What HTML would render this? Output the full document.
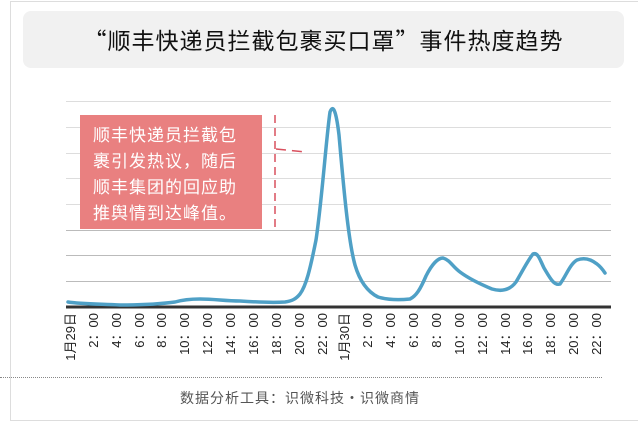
<!DOCTYPE html>
<html><head><meta charset="utf-8"><style>
body{margin:0;width:638px;height:421px;background:#fff;overflow:hidden;font-family:"Liberation Sans","Noto Sans CJK SC",sans-serif;position:relative}
.frame{position:absolute;left:10px;top:1px;width:627px;height:418px;border:1px solid #ddd}
.title{position:absolute;left:23px;top:11px;width:601px;height:57px;background:#f1f1f1;border-radius:8px;text-align:center;line-height:57px;font-size:23px;letter-spacing:1px;color:#111;font-family:"Noto Sans CJK SC",sans-serif}
.note{position:absolute;left:80px;top:115px;width:182px;height:114px;background:#e98080;color:#fff;font-size:17px;line-height:26px;padding:6px 0 0 13px;box-sizing:border-box;letter-spacing:1px;font-family:"Noto Sans CJK SC",sans-serif}
.foot{position:absolute;left:0;top:388px;width:600px;text-align:center;font-size:14px;letter-spacing:1px;color:#555;font-family:"Noto Sans CJK SC",sans-serif}
.dot{position:absolute;left:0;top:377px;width:602px;border-top:1px dotted #888}
</style></head><body>
<div class="frame"></div>
<div class="title">“顺丰快递员拦截包裹买口罩”事件热度趋势</div>
<svg width="638" height="421" style="position:absolute;left:0;top:0">
<g stroke="#ddd" stroke-width="1">
<line x1="66" x2="611" y1="101.5" y2="101.5"/><line x1="66" x2="611" y1="127.5" y2="127.5"/>
<line x1="66" x2="611" y1="153.5" y2="153.5"/><line x1="66" x2="611" y1="178.5" y2="178.5"/>
<line x1="66" x2="611" y1="204.5" y2="204.5"/><line x1="66" x2="611" y1="230.5" y2="230.5" stroke="#bbb"/>
<line x1="66" x2="611" y1="255.5" y2="255.5" stroke="#bbb"/><line x1="66" x2="611" y1="281.5" y2="281.5" stroke="#bbb"/>
</g>
<line x1="66" x2="611" y1="307" y2="307" stroke="#333" stroke-width="3"/>
<path d="M68,302 C80,304 100,304 120,305 C140,305 160,304 175,302 C182,300 188,299 200,299 C215,299 225,301 240,301 C255,302 270,303 285,302 C292,301 296,299 300,294 C306,286 310,270 316,240 C322,200 326,140 330,112 C333,104 336,110 339,135 C343,180 348,240 355,265 C360,282 368,292 378,297 C388,300 400,300 410,299 C416,296 420,290 426,276 C432,264 438,258 443,258 C450,260 452,266 460,272 C468,278 480,284 492,289 C502,292 510,290 516,282 C522,272 528,260 533,254 C538,252 540,260 544,268 C550,278 554,286 560,284 C566,276 570,264 577,260 C585,257 592,260 597,264 C601,267 603,270 605,273" fill="none" stroke="#4fa0c6" stroke-width="3.5" stroke-linecap="round"/>
<line x1="275" x2="275" y1="115" y2="229" stroke="#d9505e" stroke-width="1.5" stroke-dasharray="8,5"/>
<line x1="276" x2="306" y1="149" y2="152" stroke="#d9505e" stroke-width="1.5" stroke-dasharray="10,6"/>
<g font-size="13" fill="#222" font-family="Liberation Sans,Noto Sans CJK SC,sans-serif" text-anchor="end">
<text transform="translate(75,313) rotate(-90)">1月29日</text>
<text transform="translate(98,313) rotate(-90)">2：00</text>
<text transform="translate(121,313) rotate(-90)">4：00</text>
<text transform="translate(144,313) rotate(-90)">6：00</text>
<text transform="translate(166,313) rotate(-90)">8：00</text>
<text transform="translate(189,313) rotate(-90)">10：00</text>
<text transform="translate(212,313) rotate(-90)">12：00</text>
<text transform="translate(235,313) rotate(-90)">14：00</text>
<text transform="translate(258,313) rotate(-90)">16：00</text>
<text transform="translate(281,313) rotate(-90)">18：00</text>
<text transform="translate(304,313) rotate(-90)">20：00</text>
<text transform="translate(327,313) rotate(-90)">22：00</text>
<text transform="translate(349,313) rotate(-90)">1月30日</text>
<text transform="translate(372,313) rotate(-90)">2：00</text>
<text transform="translate(395,313) rotate(-90)">4：00</text>
<text transform="translate(418,313) rotate(-90)">6：00</text>
<text transform="translate(441,313) rotate(-90)">8：00</text>
<text transform="translate(464,313) rotate(-90)">10：00</text>
<text transform="translate(487,313) rotate(-90)">12：00</text>
<text transform="translate(510,313) rotate(-90)">14：00</text>
<text transform="translate(532,313) rotate(-90)">16：00</text>
<text transform="translate(555,313) rotate(-90)">18：00</text>
<text transform="translate(578,313) rotate(-90)">20：00</text>
<text transform="translate(601,313) rotate(-90)">22：00</text>
</g>
</svg>
<div class="note">顺丰快递员拦截包<br>裹引发热议，随后<br>顺丰集团的回应助<br>推舆情到达峰值。</div>
<div class="dot"></div>
<div class="foot">数据分析工具：识微科技・识微商情</div>
</body></html>
